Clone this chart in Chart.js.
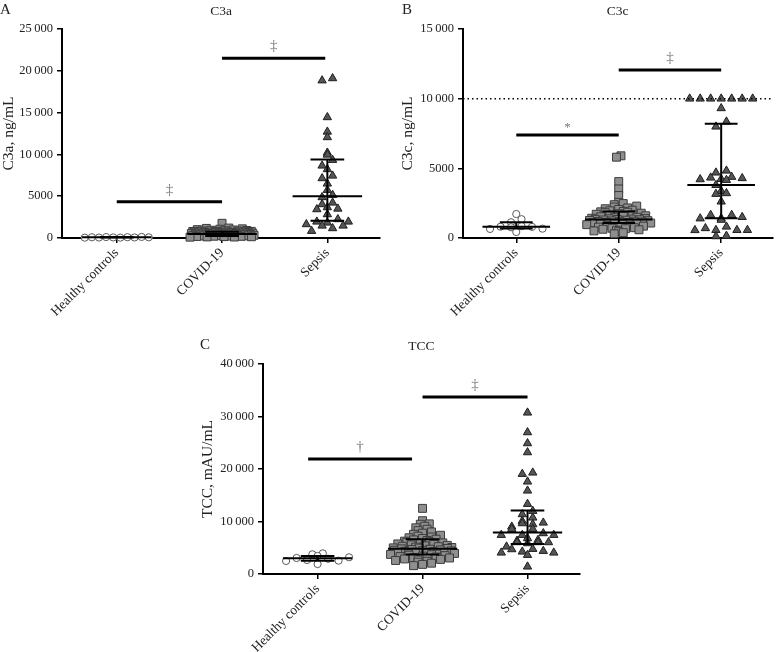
<!DOCTYPE html>
<html>
<head>
<meta charset="utf-8">
<title>C3a, C3c and TCC</title>
<script src="https://cdn.jsdelivr.net/npm/chart.js@4.4.1/dist/chart.umd.min.js"></script>
<style>
  body { margin: 0; background: #fff; }
  canvas { position: absolute; }
</style>
</head>
<body>
<canvas id="panelA" width="390" height="330" style="left:0;top:0"></canvas>
<canvas id="panelB" width="380" height="330" style="left:399px;top:0"></canvas>
<canvas id="panelC" width="391" height="317" style="left:199px;top:335px"></canvas>
<script>
const categories = ['Healthy controls', 'COVID-19', 'Sepsis'];

// A - C3a, ng/mL
const c3aHealthy = [130, 110, 95, 90, 80, 70, 65, 55, 45, 40];
const c3aCovid = [1760, 1190, 1150, 1100, 1050, 1000, 960, 930, 900, 875, 850, 830, 810, 795, 785,
  770, 755, 742, 731, 720, 708, 695, 681, 668, 655, 641, 628, 612, 599, 585, 571, 558, 546, 533, 521, 508, 496,
  484, 471, 458, 446, 433, 420, 406, 393, 380, 366, 352, 339, 325, 311, 297, 283, 269, 254, 240, 226, 211, 197,
  182, 166, 150, 133, 116, 98];
const c3aSepsis = [19100, 18840, 14440, 12710, 12050, 10200, 9960, 9330, 8650, 8220, 7450, 7140, 6500, 5740, 5140,
  4870, 4220, 4030, 3670, 3500, 3430, 2830, 2240, 1950, 1950, 1830, 1640, 1470, 1470, 1160, 840];
const c3aMedian = [90, 480, 5000];
const c3aQ1 = [60, 250, 2070];
const c3aQ3 = [110, 750, 9400];
const c3aSigFrom = [1, 2];
const c3aSigTo = [2, 2.98];
const c3aSigLevel = [4350, 21500];
const c3aSigMark = ['\u2021', '\u2021'];

// B - C3c, ng/mL (10 000 = upper limit of the assay)
const c3cHealthy = [1720, 1350, 1130, 850, 810, 800, 770, 670, 650, 430];
const c3cCovid = [5900, 5800, 4050, 3520, 3050, 2560, 2470, 2390, 2290, 2220, 2160, 2100, 2050, 1995, 1950, 1910,
  1880, 1850, 1815, 1780, 1742, 1705, 1670, 1632, 1598, 1560, 1525, 1490, 1455, 1420, 1395, 1378, 1360, 1343, 1326,
  1310, 1294, 1277, 1260, 1243, 1226, 1208, 1190, 1172, 1153, 1134, 1114, 1094, 1073, 1052, 1030, 1007, 983, 958,
  925, 890, 852, 815, 776, 738, 702, 665, 628, 590, 552, 510, 455, 380, 300];
const c3cSepsis = [10000, 10000, 10000, 10000, 10000, 10000, 10000, 9310, 8350, 7990, 4830, 4690, 4380, 4330, 4290,
  4230, 4210, 4160, 3800, 3370, 3210, 3160, 2610, 1650, 1650, 1500, 1410, 1400, 1300, 810, 700, 570, 570, 570, 560,
  150, 120];
const c3cMedian = [805, 1320, 3800];
const c3cQ1 = [680, 1080, 1410];
const c3cQ3 = [1130, 1900, 8200];
const c3cSigFrom = [1, 2];
const c3cSigTo = [2, 3];
const c3cSigLevel = [7400, 12050];
const c3cSigMark = ['*', '\u2021'];
const c3cLimit = 10000;

// C - TCC, mAU/mL
const tccHealthy = [3940, 3750, 3430, 3180, 3050, 2900, 2670, 2540, 2480, 1900];
const tccCovid = [12500, 10150, 9550, 9480, 9100, 8800, 8520, 8260, 8010, 7780, 7560, 7380, 7210, 7050, 6900, 6760,
  6630, 6500, 6380, 6260, 6150, 6040, 5930, 5830, 5730, 5640, 5550, 5460, 5370, 5290, 5210, 5130, 5050, 4980, 4930,
  4860, 4790, 4720, 4660, 4590, 4520, 4450, 4390, 4320, 4250, 4180, 4120, 4050, 3980, 3920, 3850, 3790, 3730, 3680,
  3590, 3500, 3410, 3320, 3230, 3140, 3050, 2960, 2870, 2780, 2680, 2570, 2420, 2250, 2060, 1830, 1590];
const tccSepsis = [30730, 26980, 24890, 23170, 19300, 19050, 17590, 15870, 13330, 12000, 11370, 10730, 10100, 9770,
  9650, 9460, 9010, 8570, 8570, 7750, 7430, 7430, 7430, 6800, 6480, 6320, 6040, 6040, 6040, 5840, 5210, 4760, 4700,
  4380, 4250, 4060, 4060, 3620, 1400];
const tccMedian = [2980, 4800, 7900];
const tccQ1 = [2540, 3700, 5700];
const tccQ3 = [3430, 6600, 12100];
const tccSigFrom = [0.91, 2];
const tccSigTo = [1.9, 3];
const tccSigLevel = [21900, 33700];
const tccSigMark = ['\u2020', '\u2021'];

const serif = "'Liberation Serif', 'Times New Roman', serif";
const X_MIN = 0.48, X_MAX = 3.5;

// marker look and horizontal dot spacing (px) per group
const markers = [
  { pointStyle: 'circle', pointRadius: 3.6, backgroundColor: '#ffffff', borderColor: '#5a5a5a' },
  { pointStyle: 'rect', pointRadius: 5.6, backgroundColor: '#8f8f8f', borderColor: '#3c3c3c' },
  { pointStyle: 'triangle', pointRadius: 4.8, backgroundColor: '#555555', borderColor: '#1e1e1e' }
];
const dotStep = [10.5, 4.5, 10.5];

function fmtTick(v) {
  const s = String(v);
  return v >= 10000 ? s.slice(0, -3) + '\u2009' + s.slice(-3) : s;
}

// prism-like dot layout: points are binned in rows of one marker height and
// spread out round the category; crowded rows are squeezed together
function swarmOffsets(values, yScale, stepPx) {
  const ROW = 6.5, HALF = 32;
  const base = yScale.getPixelForValue(0);
  const rows = {};
  values.forEach((v, i) => {
    const r = Math.floor((base - yScale.getPixelForValue(v)) / ROW);
    (rows[r] = rows[r] || []).push(i);
  });
  const offs = [];
  Object.values(rows).forEach(idx => {
    const n = idx.length;
    const step = n > 1 ? Math.min(stepPx, 2 * HALF / (n - 1)) : 0;
    // mix the slots so a row is not sorted left to right
    const slots = idx.map((_, k) => k).sort((a, b) => ((a * 0.618) % 1) - ((b * 0.618) % 1));
    idx.sort((a, b) => values[a] - values[b]);
    idx.forEach((i, k) => { offs[i] = (slots[k] - (n - 1) / 2) * step; });
  });
  return offs;
}

function segment(points, width, dash) {
  return {
    type: 'scatter',
    data: points.map(([x, y]) => ({ x, y })),
    showLine: true,
    borderColor: '#000',
    borderWidth: width,
    borderDash: dash || [],
    pointRadius: 0,
    clip: false,
    order: 0
  };
}

const panelText = {
  id: 'panelText',
  afterDatasetsDraw(chart, args, opts) {
    const { ctx, chartArea, scales } = chart;
    ctx.save();
    ctx.fillStyle = '#222';
    ctx.textBaseline = 'middle';
    ctx.textAlign = 'left';
    ctx.font = `15px ${serif}`;
    ctx.fillText(opts.letter, opts.letterX, 10);
    ctx.textAlign = 'center';
    ctx.font = `13.5px ${serif}`;
    ctx.fillText(opts.title, (chartArea.left + chartArea.right) / 2, chartArea.top - 18);
    ctx.fillStyle = '#777';
    opts.marks.forEach((m, i) => {
      const x = scales.x.getPixelForValue((opts.from[i] + opts.to[i]) / 2);
      const y = scales.y.getPixelForValue(opts.levels[i]);
      ctx.font = `${m === '*' ? 13 : 15}px ${serif}`;
      ctx.fillText(m, x, y - (m === '*' ? 7 : 12));
    });
    ctx.restore();
  }
};

function buildPanel(canvasId, p) {
  const groups = [p.healthy, p.covid, p.sepsis];
  const datasets = groups.map((vals, g) => Object.assign({
    type: 'scatter',
    data: vals.map(v => ({ x: g + 1, y: v })),
    borderWidth: 1,
    clip: false,
    order: 1
  }, markers[g]));

  groups.forEach((vals, g) => {
    const x = g + 1;
    datasets.push(segment([[x - 0.33, p.median[g]], [x + 0.33, p.median[g]]], 2));
    datasets.push(segment([[x - 0.16, p.q3[g]], [x + 0.16, p.q3[g]]], 2));
    datasets.push(segment([[x - 0.16, p.q1[g]], [x + 0.16, p.q1[g]]], 2));
    datasets.push(segment([[x, p.q1[g]], [x, p.q3[g]]], 2));
  });
  p.sigFrom.forEach((f, i) => {
    datasets.push(segment([[f, p.sigLevel[i]], [p.sigTo[i], p.sigLevel[i]]], 3));
  });
  if (p.limit) {
    datasets.push(segment([[X_MIN, p.limit], [X_MAX, p.limit]], 1.5, [1.5, 3]));
  }

  const chart = new Chart(document.getElementById(canvasId), {
    data: { datasets },
    options: {
      responsive: false,
      animation: false,
      devicePixelRatio: 1,
      layout: { padding: { top: p.padTop, right: p.padRight, left: 0, bottom: 0 } },
      plugins: {
        legend: { display: false },
        tooltip: { enabled: false },
        panelText: {
          letter: p.letter, letterX: p.letterX, title: p.title,
          marks: p.sigMark, from: p.sigFrom, to: p.sigTo, levels: p.sigLevel
        }
      },
      scales: {
        x: {
          type: 'linear',
          min: X_MIN,
          max: X_MAX,
          afterBuildTicks: s => { s.ticks = [1, 2, 3].map(v => ({ value: v })); },
          afterFit: s => { s.height = p.xHeight; },
          grid: { drawOnChartArea: false, color: '#000', lineWidth: 1.5, tickLength: 5 },
          border: { color: '#000', width: 2 },
          ticks: {
            autoSkip: false, maxRotation: 45, minRotation: 45, padding: 2,
            color: '#222', font: { family: serif, size: 13.5 },
            callback: v => categories[v - 1]
          }
        },
        y: {
          min: 0,
          max: p.yMax,
          afterFit: s => { s.width = p.yWidth; },
          grid: { drawOnChartArea: false, color: '#000', lineWidth: 1.5, tickLength: 5 },
          border: { color: '#000', width: 2 },
          ticks: { stepSize: p.yStep, padding: 4, color: '#222', font: { family: serif, size: 12.5 }, callback: fmtTick },
          title: { display: true, text: p.yTitle, color: '#222', padding: 0, font: { family: serif, size: 15.5 } }
        }
      }
    },
    plugins: [panelText]
  });

  // spread the dots now that the scales are laid out
  const unit = chart.scales.x.getPixelForValue(2) - chart.scales.x.getPixelForValue(1);
  groups.forEach((vals, g) => {
    const offs = swarmOffsets(vals, chart.scales.y, dotStep[g]);
    chart.data.datasets[g].data = vals.map((v, i) => ({ x: g + 1 + offs[i] / unit, y: v }));
  });
  chart.update('none');
  return chart;
}

buildPanel('panelA', {
  letter: 'A', letterX: 0, title: 'C3a', yTitle: 'C3a, ng/mL', yMax: 25000, yStep: 5000,
  healthy: c3aHealthy, covid: c3aCovid, sepsis: c3aSepsis,
  median: c3aMedian, q1: c3aQ1, q3: c3aQ3,
  sigFrom: c3aSigFrom, sigTo: c3aSigTo, sigLevel: c3aSigLevel, sigMark: c3aSigMark,
  padTop: 29, padRight: 10, yWidth: 62, xHeight: 92
});

buildPanel('panelB', {
  letter: 'B', letterX: 3, title: 'C3c', yTitle: 'C3c, ng/mL', yMax: 15000, yStep: 5000,
  healthy: c3cHealthy, covid: c3cCovid, sepsis: c3cSepsis,
  median: c3cMedian, q1: c3cQ1, q3: c3cQ3,
  sigFrom: c3cSigFrom, sigTo: c3cSigTo, sigLevel: c3cSigLevel, sigMark: c3cSigMark,
  limit: c3cLimit,
  padTop: 29, padRight: 1, yWidth: 64, xHeight: 92
});

buildPanel('panelC', {
  letter: 'C', letterX: 1, title: 'TCC', yTitle: 'TCC, mAU/mL', yMax: 40000, yStep: 10000,
  healthy: tccHealthy, covid: tccCovid, sepsis: tccSepsis,
  median: tccMedian, q1: tccQ1, q3: tccQ3,
  sigFrom: tccSigFrom, sigTo: tccSigTo, sigLevel: tccSigLevel, sigMark: tccSigMark,
  padTop: 29, padRight: 10, yWidth: 64, xHeight: 78
});
</script>
</body>
</html>
